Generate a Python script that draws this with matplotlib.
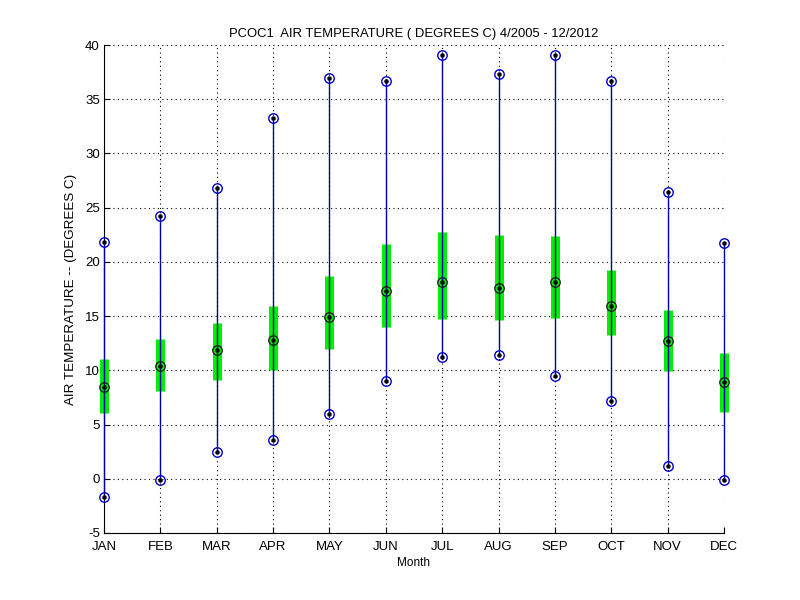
import matplotlib
matplotlib.use("Agg")
import matplotlib.pyplot as plt
import numpy as np

months = ["JAN", "FEB", "MAR", "APR", "MAY", "JUN", "JUL", "AUG", "SEP", "OCT", "NOV", "DEC"]
t_max = [21.8, 24.2, 26.8, 33.3, 37.0, 36.7, 39.1, 37.3, 39.1, 36.7, 26.4, 21.7]
t_min = [-1.7, -0.15, 2.45, 3.55, 5.95, 9.0, 11.25, 11.4, 9.45, 7.15, 1.15, -0.15]
t_mean = [8.45, 10.4, 11.85, 12.8, 14.9, 17.3, 18.1, 17.55, 18.1, 15.95, 12.7, 8.9]
q_low = [6.05, 8.05, 9.15, 10.05, 12.0, 13.95, 14.7, 14.6, 14.85, 13.3, 9.9, 6.2]
q_high = [11.05, 12.9, 14.35, 15.95, 18.7, 21.65, 22.75, 22.45, 22.35, 19.25, 15.55, 11.6]

plt.rcParams['font.family'] = ['Liberation Sans', 'DejaVu Sans']
plt.rcParams['axes.unicode_minus'] = False
fig = plt.figure(figsize=(8, 6), dpi=100)
ax = fig.add_axes([0.13, 0.1117, 0.775, 0.8133])
x = np.arange(1, len(months) + 1)

for i in range(len(months)):
    ax.plot([x[i], x[i]], [q_low[i], q_high[i]], color='#00ee00', lw=6.5,
            solid_capstyle='butt', zorder=2, clip_on=False)
    ax.plot([x[i], x[i]], [t_min[i], t_max[i]], color='#0000aa', lw=1.0,
            zorder=3, clip_on=False)

ax.plot(x, t_max, 'o', mfc='none', mec='#0000cc', ms=6.8, mew=1.0, zorder=4, clip_on=False)
ax.plot(x, t_min, 'o', mfc='none', mec='#0000cc', ms=6.8, mew=1.0, zorder=4, clip_on=False)
ax.plot(x, t_mean, 'o', mfc='none', mec='#222222', ms=6.8, mew=1.0, zorder=4, clip_on=False)
for arr in (t_max, t_min, t_mean):
    ax.plot(x, arr, '.', color='black', ms=4.5, zorder=5, clip_on=False)

ax.set_xlim(1, 12)
ax.set_ylim(-5, 40)
ax.set_xticks(x)
ax.set_xticklabels(months)
ax.set_yticks(np.arange(-5, 41, 5))
ax.grid(True, color='black', linestyle=(0, (1, 3)), linewidth=0.8)
ax.spines['top'].set_visible(False)
ax.spines['right'].set_visible(False)
ax.tick_params(direction='in', length=4, labelsize=9.5)
ax.tick_params(axis='x', pad=5.5)
ax.tick_params(axis='y', pad=3)
for lab in ax.get_yticklabels():
    lab.set_verticalalignment('center_baseline')
ax.set_title("PCOC1  AIR TEMPERATURE ( DEGREES C) 4/2005 - 12/2012", fontsize=9.4, pad=6)
ax.set_xlabel("Month", fontsize=8.5, labelpad=3)
ax.set_ylabel("AIR TEMPERATURE -- (DEGREES C)", fontsize=9.6, labelpad=6)
ax.set_axisbelow(True)
fig.savefig("out.png", dpi=100)
